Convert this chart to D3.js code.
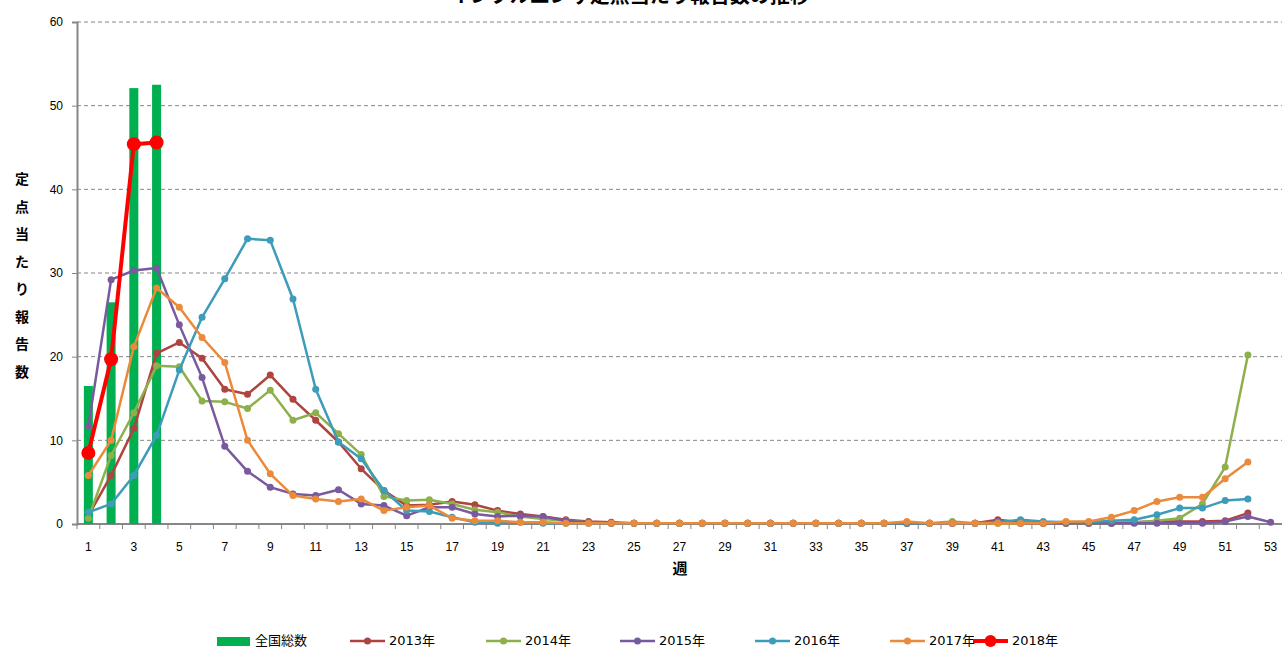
<!DOCTYPE html>
<html><head><meta charset="utf-8">
<script src="https://cdn.jsdelivr.net/npm/d3@7"></script>
<style>
html,body{margin:0;padding:0;background:#fff;overflow:hidden;}
svg{display:block;}
text{font-family:"Liberation Sans","DejaVu Sans",sans-serif;}
.jp{font-family:"Noto Sans CJK JP","Noto Sans CJK SC",sans-serif;}
.leg{font-family:"DejaVu Sans","Noto Sans CJK JP",sans-serif;}
</style></head>
<body>
<script>
// ---- data ----
const weeks = d3.range(1, 54);                 // 1..53
const tickWeeks = d3.range(1, 54, 2);          // 1,3,...,53
const yTicks = [0, 10, 20, 30, 40, 50, 60];

const nationalWeeks = [1, 2, 3, 4];
const nationalValues = [16.5, 26.5, 52.1, 52.5];

const s2013 = [1.0,5.8,11.4,20.4,21.7,19.8,16.1,15.5,17.8,14.9,12.4,9.8,6.6,4.0,2.2,2.3,2.7,2.3,1.6,1.2,0.9,0.5,0.3,0.2,0.1,0.1,0.1,0.1,0.1,0.1,0.1,0.1,0.1,0.1,0.1,0.1,0.1,0.1,0.1,0.1,0.5,0.2,0.1,0.1,0.1,0.1,0.2,0.3,0.3,0.3,0.4,1.3];
const s2014 = [0.7,8.2,13.3,18.9,18.8,14.7,14.6,13.8,16.0,12.4,13.3,10.8,8.3,3.3,2.8,2.9,2.4,1.7,1.4,0.9,0.6,0.4,0.2,0.1,0.1,0.1,0.1,0.1,0.1,0.1,0.1,0.1,0.1,0.1,0.1,0.1,0.1,0.1,0.3,0.1,0.1,0.1,0.1,0.1,0.1,0.1,0.2,0.4,0.7,2.4,6.8,20.2];
const s2015 = [11.7,29.2,30.3,30.6,23.8,17.5,9.3,6.3,4.4,3.6,3.4,4.1,2.4,2.2,1.0,2.0,2.0,1.2,0.9,1.0,0.9,0.4,0.2,0.1,0.1,0.1,0.1,0.1,0.1,0.1,0.1,0.1,0.1,0.1,0.1,0.1,0.1,0.1,0.1,0.1,0.3,0.1,0.1,0.1,0.1,0.1,0.1,0.1,0.1,0.1,0.3,0.9,0.2];
const s2016 = [1.4,2.4,5.8,10.6,18.4,24.7,29.3,34.1,33.9,26.9,16.1,9.8,7.8,4.0,1.6,1.5,0.8,0.2,0.1,0.2,0.1,0.1,0.1,0.1,0.1,0.1,0.1,0.1,0.1,0.1,0.1,0.1,0.1,0.1,0.1,0.1,0.1,0.1,0.1,0.1,0.2,0.5,0.3,0.2,0.2,0.4,0.5,1.1,1.9,1.9,2.8,3.0];
const s2017 = [5.8,10.0,21.2,28.2,25.9,22.3,19.3,10.0,6.0,3.4,3.0,2.7,3.0,1.6,2.0,2.2,0.7,0.4,0.4,0.2,0.2,0.1,0.1,0.1,0.1,0.1,0.1,0.1,0.1,0.1,0.1,0.1,0.1,0.1,0.1,0.1,0.3,0.1,0.1,0.1,0.1,0.1,0.1,0.3,0.3,0.8,1.6,2.7,3.2,3.2,5.4,7.4];
const s2018 = [8.5,19.7,45.4,45.6];

const seriesNames = ["2013年","2014年","2015年","2016年","2017年","2018年"];
const seriesData = [s2013, s2014, s2015, s2016, s2017, s2018];
const seriesColors = ["#AE433F","#8DB04C","#7A5A9E","#3C9CB9","#EB8A3B","#FF0000"];
const barName = "全国総数";
const barColor = "#00B050";

// ---- layout ----
const W = 1282, H = 649;
const mL = 77, mR = 1282, mT = 22, mB = 524;

const svg = d3.select("body").append("svg").attr("width", W).attr("height", H);

const x = d3.scaleBand().domain(weeks).range([mL, mR]).padding(0);
const y = d3.scaleLinear().domain([0, 60]).range([mB, mT]);
const cx = w => x(w) + x.bandwidth() / 2;

// title (cut off at top in reference)
svg.append("text").attr("class","jp").attr("x", 630).attr("y", 3)
  .attr("text-anchor","middle").attr("font-size", 20).attr("font-weight","bold")
  .attr("fill","#000").text("インフルエンザ定点当たり報告数の推移");

// gridlines
svg.append("g").selectAll("line").data(yTicks.filter(d => d > 0)).join("line")
  .attr("x1", mL).attr("x2", mR).attr("y1", d => y(d)).attr("y2", d => y(d))
  .attr("stroke", "#868686").attr("stroke-width", 1).attr("stroke-dasharray", "4,3");

// y axis
const yAxis = d3.axisLeft(y).tickValues(yTicks).tickSize(5).tickPadding(9);
const gy = svg.append("g").attr("transform", `translate(${mL},0)`).call(yAxis);
gy.select(".domain").attr("stroke", "#868686").attr("stroke-width", 2);
gy.selectAll(".tick line").attr("stroke", "#868686");
gy.selectAll(".tick text").attr("font-size", 12).attr("fill", "#000");

// x axis
const gx = svg.append("g").attr("transform", `translate(0,${mB})`);
gx.append("line").attr("x1", mL).attr("x2", mR).attr("y1", 0).attr("y2", 0)
  .attr("stroke", "#868686").attr("stroke-width", 2);
gx.selectAll("line.tk").data(weeks).join("line").attr("class","tk")
  .attr("x1", d => x(d)).attr("x2", d => x(d)).attr("y1", 0).attr("y2", 5)
  .attr("stroke", "#868686");
gx.selectAll("text").data(tickWeeks).join("text")
  .attr("x", d => cx(d)).attr("y", 27).attr("text-anchor","middle")
  .attr("font-size", 12).attr("fill","#000").text(d => d);

// axis titles
const yTitle = "定点当たり報告数".split("");
svg.append("g").selectAll("text").data(yTitle).join("text").attr("class","jp")
  .attr("x", 22).attr("y", (d,i) => 184 + i * 27.5).attr("text-anchor","middle")
  .attr("font-size", 14).attr("font-weight","bold").attr("fill","#000").text(d => d);
svg.append("text").attr("class","jp").attr("x", 680).attr("y", 574)
  .attr("text-anchor","middle").attr("font-size", 15).attr("font-weight","bold").text("週");

// bars
svg.append("g").selectAll("rect").data(nationalWeeks.map((w,i) => ({w, v: nationalValues[i]}))).join("rect")
  .attr("x", d => cx(d.w) - 4.5).attr("width", 9)
  .attr("y", d => y(d.v)).attr("height", d => y(0) - y(d.v))
  .attr("fill", barColor);

// lines
const line = d3.line().x(d => cx(d.w)).y(d => y(d.v));
seriesData.forEach((arr, si) => {
  const pts = arr.map((v, i) => ({w: i + 1, v}));
  const is18 = si === 5;
  const g = svg.append("g");
  g.append("path").datum(pts).attr("d", line).attr("fill","none")
    .attr("stroke", seriesColors[si]).attr("stroke-width", is18 ? 4 : 2.5)
    .attr("stroke-linejoin","round");
  g.selectAll("circle").data(pts).join("circle")
    .attr("cx", d => cx(d.w)).attr("cy", d => y(d.v)).attr("r", is18 ? 7 : 3.5)
    .attr("fill", seriesColors[si]);
});

// legend
const ly = 641;
const lg = svg.append("g");
lg.append("rect").attr("x", 217).attr("y", ly - 4).attr("width", 33).attr("height", 9).attr("fill", barColor);
lg.append("text").attr("class","leg").attr("x", 255).attr("y", ly + 4).attr("font-size", 13).text(barName);
const legX = [350, 486, 620, 755, 890, 973];
seriesNames.forEach((nm, i) => {
  const x0 = legX[i];
  const is18 = i === 5;
  lg.append("line").attr("x1", x0).attr("x2", x0 + 35).attr("y1", ly).attr("y2", ly)
    .attr("stroke", seriesColors[i]).attr("stroke-width", is18 ? 4 : 2.5);
  lg.append("circle").attr("cx", x0 + 17.5).attr("cy", ly).attr("r", is18 ? 6 : 3.5).attr("fill", seriesColors[i]);
  lg.append("text").attr("class","leg").attr("x", x0 + 39).attr("y", ly + 4).attr("font-size", 13).text(nm);
});
</script>
</body></html>
